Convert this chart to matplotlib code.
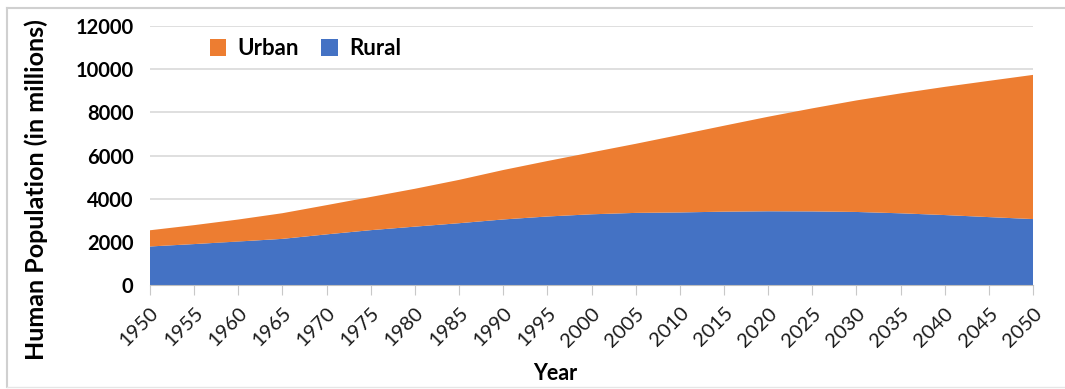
import matplotlib
matplotlib.use("Agg")
import matplotlib.pyplot as plt
from matplotlib.lines import Line2D
from matplotlib.patches import Patch

years = [1950, 1955, 1960, 1965, 1970, 1975, 1980, 1985, 1990, 1995, 2000,
         2005, 2010, 2015, 2020, 2025, 2030, 2035, 2040, 2045, 2050]
rural = [1785, 1896, 2015, 2138, 2346, 2541, 2704, 2863, 3037, 3174, 3276,
         3341, 3362, 3398, 3416, 3410, 3384, 3322, 3241, 3146, 3055]
urban = [751, 877, 1019, 1189, 1354, 1538, 1754, 2007, 2290, 2569, 2868,
         3200, 3595, 3981, 4379, 4774, 5167, 5555, 5938, 6312, 6680]
y_ticks = [0, 2000, 4000, 6000, 8000, 10000, 12000]

BLUE = "#4472C4"
ORANGE = "#ED7D31"
FONT = ["Lato", "DejaVu Sans"]
plt.rcParams["font.family"] = FONT

fig = plt.figure(figsize=(10.65, 3.89), dpi=100)
ax = fig.add_axes([150/1065, 1 - 285/389, (1033-150)/1065, (285-26)/389])

ax.stackplot(years, rural, urban, colors=[BLUE, ORANGE], linewidth=0, zorder=2)

ax.set_xlim(1950, 2050)
ax.set_ylim(0, 12000)
ax.set_yticks(y_ticks)
ax.set_yticklabels([str(v) for v in y_ticks], fontsize=14.5, fontweight="bold")
ax.set_xticks(years)
ax.set_xticklabels([str(y) for y in years], rotation=45, ha="right",
                   rotation_mode="anchor", fontsize=14.5, color="#1a1a1a")
ax.grid(axis="y", color="#D9D9D9", linewidth=1.2, zorder=0)
ax.set_axisbelow(True)
for s in ["top", "right", "left"]:
    ax.spines[s].set_visible(False)
ax.spines["bottom"].set_color("#BFBFBF")
ax.tick_params(axis="y", length=0, pad=12)
ax.tick_params(axis="x", length=7, color="#C8C8C8", pad=7)

ax.set_xlabel("Year", fontsize=15.5, fontweight="bold")
ax.xaxis.set_label_coords(0.459, -0.3)
ax.set_ylabel("Human Population (in millions)", fontsize=18, fontweight="bold")
ax.yaxis.set_label_coords(-0.1155, 0.37)

handles = [Patch(facecolor=ORANGE, label="Urban"), Patch(facecolor=BLUE, label="Rural")]
leg = ax.legend(handles=handles, loc="upper left", bbox_to_anchor=(0.045, 1.03),
                ncol=2, frameon=False, prop={"weight": "bold", "size": 16},
                handlelength=0.75, handleheight=0.75, handletextpad=0.5,
                columnspacing=1.0)

# outer frame (partial, as in the reference)
fig.add_artist(Line2D([7/1065, 1.0], [1 - 8/389, 1 - 8/389], color="#D0D0D0",
                      linewidth=1.5, transform=fig.transFigure))
fig.add_artist(Line2D([7/1065, 7/1065], [1 - 8/389, 1 - 387/389], color="#D0D0D0",
                      linewidth=1.5, transform=fig.transFigure))
fig.add_artist(Line2D([7/1065, 1.0], [1 - 387/389, 1 - 387/389], color="#E6E6E6",
                      linewidth=1.0, transform=fig.transFigure))

fig.savefig("out.png", dpi=100)
